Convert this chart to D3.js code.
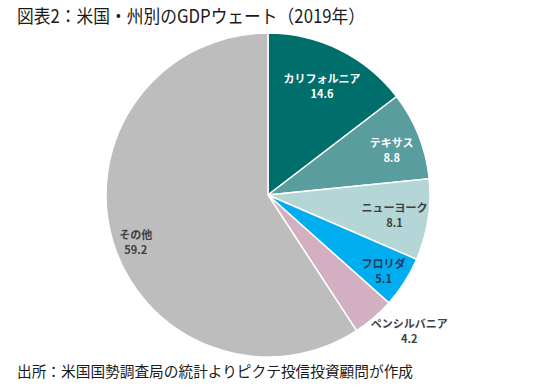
<!DOCTYPE html>
<html><head><meta charset="utf-8">
<script src="https://cdn.jsdelivr.net/npm/d3@7"></script>
<style>body{margin:0;background:#fff}svg{display:block}</style>
</head><body>
<svg id="c" width="550" height="387"></svg>
<script>
const categories = ["カリフォルニア","テキサス","ニューヨーク","フロリダ","ペンシルバニア","その他"];
const values = [14.6, 8.8, 8.1, 5.1, 4.2, 59.2];
const valueLabels = ["14.6","8.8","8.1","5.1","4.2","59.2"];

const colors = ["#006e6b","#5a9d9e","#b4d6d7","#00aeef","#d3afc2","#bdbdbd"];
const textColors = ["#fff","#fff","#404040","#1f3864","#404040","#404040"];
const labelR = [122, 133, 128, 136, 180, 138];
const labelDx = [0, 0, 0, 1, 24, 0];
const labelDy = [0, 4, 0, 3, -1, 8];

const svg = d3.select("#c");
const font = "'Noto Sans CJK JP', 'Noto Sans', sans-serif";
const cx = 268, cy = 195, R = 162;

svg.append("text").attr("x", 17).attr("y", 23).attr("font-family", font)
  .attr("font-size", 18.5).attr("fill", "#1a1a1a")
  .attr("textLength", 348).attr("lengthAdjust", "spacingAndGlyphs")
  .text("図表2：米国・州別のGDPウェート（2019年）");
svg.append("text").attr("x", 17).attr("y", 377).attr("font-family", font)
  .attr("font-size", 14.5).attr("fill", "#1a1a1a")
  .attr("textLength", 396).attr("lengthAdjust", "spacingAndGlyphs")
  .text("出所：米国国勢調査局の統計よりピクテ投信投資顧問が作成");

const pie = d3.pie().sort(null).value(d => d);
const arcs = pie(values);
const arc = d3.arc().innerRadius(0).outerRadius(R);
const g = svg.append("g").attr("transform", `translate(${cx},${cy})`);
g.selectAll("path").data(arcs).join("path")
  .attr("d", arc).attr("fill", (d,i) => colors[i])
  .attr("stroke", "#fff").attr("stroke-width", 1.5);

arcs.forEach((d, i) => {
  const la = d3.arc().innerRadius(labelR[i]).outerRadius(labelR[i]);
  let [x, y] = la.centroid(d);
  x += labelDx[i]; y += labelDy[i];
  const t = g.append("text").attr("text-anchor", "middle").attr("font-family", font)
    .attr("font-weight", "bold").attr("font-size", 11).attr("fill", textColors[i]);
  t.append("tspan").attr("x", x).attr("y", y - 3).text(categories[i]);
  t.append("tspan").attr("x", x).attr("y", y + 12).text(valueLabels[i]);
});
</script>
</body></html>
